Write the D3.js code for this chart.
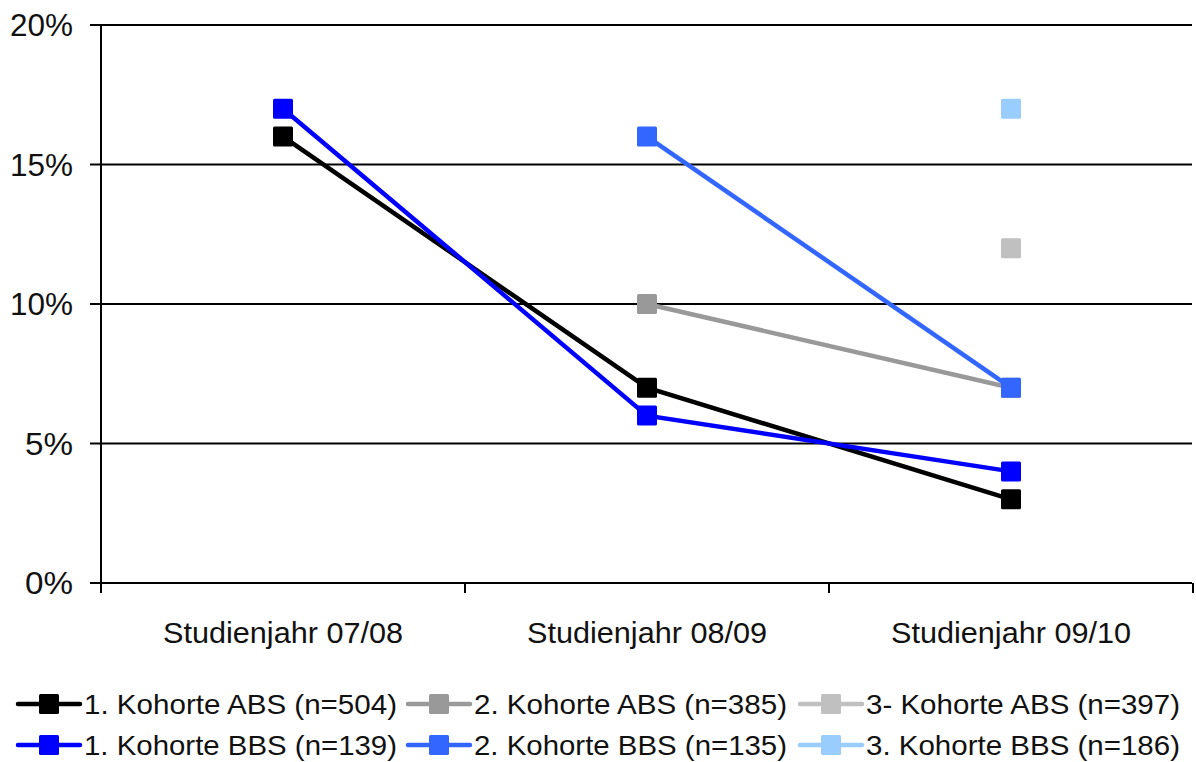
<!DOCTYPE html>
<html><head><meta charset="utf-8">
<script src="https://cdn.jsdelivr.net/npm/d3@7"></script>
<style>body{margin:0;background:#fff}svg{display:block}text{font-family:"Liberation Sans",Arial,sans-serif;fill:#111}</style>
</head><body>
<svg id="c" width="1196" height="762"></svg>
<script>
const categories = ["Studienjahr 07/08","Studienjahr 08/09","Studienjahr 09/10"];
const yTicks = [0,5,10,15,20];
const seriesNames = ["1. Kohorte ABS (n=504)","2. Kohorte ABS (n=385)","3- Kohorte ABS (n=397)","1. Kohorte BBS (n=139)","2. Kohorte BBS (n=135)","3. Kohorte BBS (n=186)"];
const seriesColors = ["#000000","#999999","#c0c0c0","#0000ff","#3366ff","#99ccff"];
const abs1 = [16,7,3];
const abs2 = [null,10,7];
const abs3 = [null,null,12];
const bbs1 = [17,6,4];
const bbs2 = [null,16,7];
const bbs3 = [null,null,17];
const seriesValues = [abs1,abs2,abs3,bbs1,bbs2,bbs3];

const svg = d3.select("#c");
const L=101,R=1193,T=25,B=583;
const x = d3.scaleBand().domain(categories).range([L,R]);
const y = d3.scaleLinear().domain([0,20]).range([B,T]);

svg.append("g").selectAll("line").data(yTicks).join("line")
 .attr("x1",L-11).attr("x2",R-1).attr("y1",d=>y(d)).attr("y2",d=>y(d))
 .attr("stroke","#000").attr("stroke-width",2);
svg.append("line").attr("x1",L).attr("x2",L).attr("y1",T).attr("y2",B).attr("stroke","#000").attr("stroke-width",2);
svg.append("g").selectAll("text").data(yTicks).join("text")
 .attr("x",73).attr("y",d=>y(d)).attr("dy","0.36em").attr("text-anchor","end")
 .attr("font-size",31).attr("textLength",d=>d<10?48:63).attr("lengthAdjust","spacingAndGlyphs").text(d=>d+"%");
const xt = categories.map(c=>x(c)).concat([R]);
svg.append("g").selectAll("line").data(xt).join("line")
 .attr("x1",d=>d).attr("x2",d=>d).attr("y1",B).attr("y2",B+10).attr("stroke","#000").attr("stroke-width",2);
svg.append("g").selectAll("text").data(categories).join("text")
 .attr("x",d=>x(d)+x.bandwidth()/2).attr("y",643).attr("text-anchor","middle")
 .attr("font-size",30).attr("textLength",240).attr("lengthAdjust","spacingAndGlyphs").text(d=>d);

const order=[0,3,1,4,2,5];
const line = d3.line().defined(d=>d.v!=null).x(d=>x(d.c)+x.bandwidth()/2).y(d=>y(d.v));
order.forEach(i=>{
  const pts = categories.map((c,j)=>({c,v:seriesValues[i][j]}));
  const g = svg.append("g");
  g.append("path").datum(pts).attr("d",line).attr("fill","none").attr("stroke",seriesColors[i]).attr("stroke-width",4.5);
  g.selectAll("rect").data(pts.filter(d=>d.v!=null)).join("rect")
   .attr("x",d=>x(d.c)+x.bandwidth()/2-10).attr("y",d=>y(d.v)-10)
   .attr("width",20).attr("height",20).attr("rx",1.5).attr("fill",seriesColors[i]);
});

const legX=[18,408,800], legY=[704,745];
const legLen=[313,313,314,313,313,314];
seriesNames.forEach((n,i)=>{
  const col=i%3,row=Math.floor(i/3);
  const g=svg.append("g").attr("transform",`translate(${legX[col]},${legY[row]})`);
  g.append("line").attr("x1",0).attr("x2",62).attr("stroke",seriesColors[i]).attr("stroke-width",4.5).attr("stroke-linecap","round");
  g.append("rect").attr("x",21).attr("y",-10).attr("width",20).attr("height",20).attr("rx",1.5).attr("fill",seriesColors[i]);
  g.append("text").attr("x",66).attr("dy","0.36em").attr("font-size",28)
   .attr("textLength",legLen[i]).attr("lengthAdjust","spacingAndGlyphs").text(n);
});
</script>
</body></html>
